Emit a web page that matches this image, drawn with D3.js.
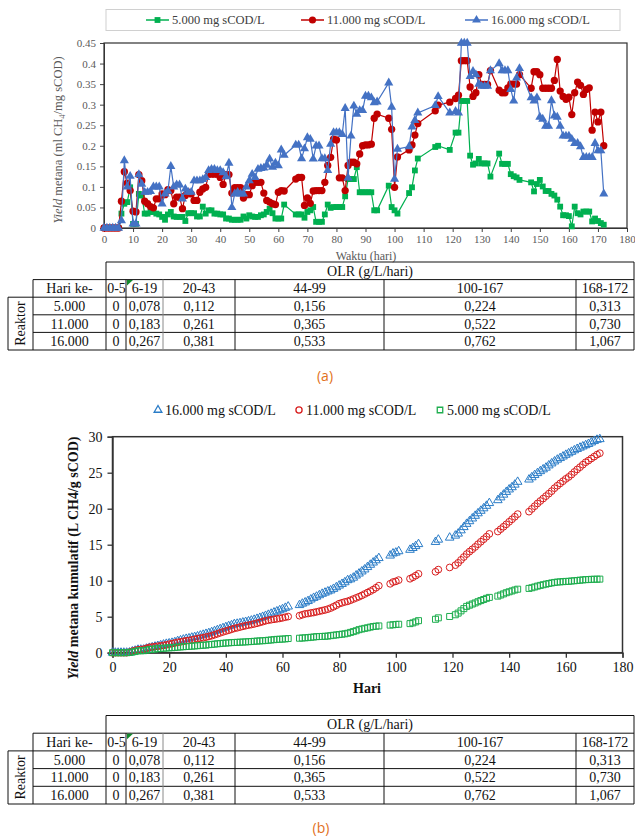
<!DOCTYPE html>
<html><head><meta charset="utf-8">
<script src="https://cdn.jsdelivr.net/npm/d3@7"></script>
<style>
body{margin:0;background:#fff;}
svg{display:block;}
svg text{font-family:"Liberation Serif","Times New Roman",serif;}
svg text.sans{font-family:"Open Sans","Liberation Sans",sans-serif;}
</style>
</head><body>
<svg id="c" width="635" height="839"></svg>
<script>
// ---------- DATA ----------
const days = [0,1,2,3,4,5,6,7,8,9,10,11,12,13,14,15,16,17,18,19,
20,21,22,23,24,25,26,27,28,29,30,31,32,33,34,35,36,37,38,39,40,41,42,43,
44,45,46,47,48,49,50,51,52,53,54,55,56,57,58,59,60,61,62,
66,67,68,69,70,71,72,73,74,75,76,77,78,79,80,81,82,83,84,85,86,87,88,89,90,91,92,93,94,
98,99,100,101,105,106,107,108,114,115,119,
121,122,123,124,125,126,127,128,129,130,131,132,133,
136,137,138,139,140,141,142,143,
147,148,149,150,151,152,153,154,155,156,157,158,159,160,161,162,163,164,165,166,167,168,169,170,171,172];

// daily methane yield (ml CH4/mg sCOD)
const yield5000 = [0,0,0,0,0,0,
0.035,0.059,0.063,0.099,0.010,0.010,0.083,0.079,0.035,0.035,0.039,0.039,0.035,0.033,
0.027,0.020,0.033,0.039,0.028,0.027,0.027,0.027,0.017,0.036,0.036,0.036,0.028,0.028,0.052,0.035,0.043,0.043,0.035,0.035,0.033,0.033,0.023,0.023,
0.020,0.020,0.020,0.020,0.028,0.023,0.031,0.028,0.027,0.027,0.031,0.033,0.039,0.047,0.036,0.023,0.023,0.023,0.057,
0.033,0.033,0.033,0.025,0.039,0.043,0.051,0.015,0.015,0.015,0.033,0.057,0.049,0.051,0.051,0.051,0.051,0.077,0.119,0.119,0.119,0.148,0.087,0.087,0.087,0.087,0.087,0.043,0.043,
0.103,0.051,0.043,0.035,0.085,0.099,0.140,0.169,0.197,0.200,0.190,
0.232,0.232,0.309,0.309,0.309,0.176,0.154,0.157,0.168,0.157,0.157,0.157,0.125,
0.181,0.156,0.156,0.156,0.131,0.126,0.123,0.117,
0.111,0.089,0.107,0.117,0.101,0.090,0.090,0.083,0.079,0.069,0.052,0.031,0.031,0.029,0.004,0.052,0.036,0.033,0.040,0.040,0.040,0.016,0.023,0.017,0.012,0.008];

const yield11000 = [0,0,0,0,0,0,
0.065,0.137,0.109,0.091,0.041,0.039,0.130,0.115,0.065,0.059,0.052,0.049,0.071,0.071,
0.083,0.081,0.093,0.091,0.059,0.075,0.075,0.047,0.079,0.087,0.083,0.067,0.067,0.087,0.095,0.099,0.131,0.131,0.131,0.131,0.123,0.106,0.130,0.130,
0.085,0.098,0.098,0.098,0.073,0.081,0.081,0.103,0.111,0.111,0.111,0.085,0.067,0.063,0.059,0.057,0.087,0.091,0.090,
0.119,0.123,0.123,0.055,0.073,0.060,0.090,0.091,0.091,0.091,0.111,0.152,0.172,0.216,0.214,0.122,0.122,0.091,0.152,0.160,0.160,0.156,0.180,0.200,0.202,0.202,0.204,0.267,0.277,
0.267,0.240,0.099,0.173,0.190,0.202,0.226,0.254,0.285,0.299,0.306,
0.315,0.323,0.407,0.407,0.407,0.343,0.320,0.329,0.373,0.349,0.349,0.349,0.383,
0.335,0.329,0.329,0.341,0.350,0.350,0.350,0.373,
0.340,0.380,0.380,0.373,0.340,0.340,0.340,0.340,0.359,0.410,0.333,0.320,0.313,0.318,0.276,0.329,0.355,0.347,0.325,0.337,0.341,0.238,0.282,0.258,0.282,0.200];

const yield16000 = [0,0,0,0,0,0,
0.018,0.164,0.100,0.126,0.010,0.010,0.130,0.107,0.087,0.087,0.089,0.100,0.100,0.100,
0.059,0.083,0.090,0.150,0.100,0.105,0.105,0.071,0.095,0.087,0.087,0.115,0.115,0.115,0.118,0.123,0.140,0.143,0.143,0.140,0.140,0.135,0.125,0.158,
0.050,0.083,0.087,0.083,0.083,0.100,0.115,0.131,0.123,0.143,0.145,0.146,0.153,0.168,0.148,0.158,0.152,0.190,0.177,
0.202,0.202,0.169,0.193,0.220,0.216,0.168,0.200,0.200,0.169,0.169,0.140,0.204,0.232,0.232,0.232,0.228,0.291,0.122,0.224,0.297,0.277,0.286,0.286,0.321,0.321,0.317,0.305,0.307,
0.353,0.294,0.119,0.192,0.198,0.246,0.262,0.280,0.298,0.320,0.280,
0.284,0.280,0.450,0.450,0.450,0.369,0.381,0.373,0.350,0.345,0.345,0.345,0.383,
0.400,0.383,0.383,0.383,0.337,0.309,0.365,0.388,
0.317,0.309,0.317,0.270,0.265,0.248,0.248,0.310,0.273,0.270,0.248,0.224,0.224,0.224,0.216,0.206,0.206,0.198,0.172,0.172,0.172,0.172,0.206,0.188,0.188,0.083];

// cumulative methane yield (L CH4/g sCOD)
const cum5000 = [0,0,0,0,0,0,
0.04,0.09,0.16,0.26,0.27,0.28,0.36,0.44,0.47,0.51,0.55,0.59,0.62,0.65,
0.68,0.70,0.73,0.77,0.80,0.83,0.86,0.88,0.90,0.94,0.97,1.01,1.04,1.06,1.12,1.15,1.19,1.24,1.27,1.31,1.34,1.37,1.40,1.42,
1.44,1.46,1.48,1.50,1.53,1.55,1.58,1.61,1.64,1.66,1.69,1.73,1.77,1.81,1.85,1.87,1.89,1.92,1.97,
2.01,2.04,2.07,2.10,2.14,2.18,2.23,2.25,2.26,2.28,2.31,2.37,2.42,2.47,2.52,2.57,2.62,2.70,2.82,2.93,3.05,3.20,3.29,3.38,3.46,3.55,3.64,3.68,3.72,
3.83,3.88,3.92,3.95,4.04,4.14,4.28,4.45,4.64,4.84,5.03,
5.27,5.50,5.81,6.12,6.43,6.60,6.76,6.91,7.08,7.24,7.39,7.55,7.68,
7.86,8.01,8.17,8.33,8.46,8.58,8.71,8.82,
8.93,9.02,9.13,9.25,9.35,9.44,9.53,9.61,9.69,9.76,9.81,9.84,9.87,9.90,9.91,9.96,9.99,10.03,10.07,10.11,10.15,10.16,10.19,10.20,10.21,10.22];

const cum11000 = [0,0,0,0,0,0,
0.07,0.20,0.31,0.40,0.44,0.48,0.61,0.73,0.79,0.85,0.90,0.95,1.02,1.09,
1.18,1.26,1.35,1.44,1.50,1.58,1.65,1.70,1.78,1.86,1.95,2.01,2.08,2.17,2.26,2.36,2.49,2.62,2.76,2.89,3.01,3.12,3.25,3.38,
3.46,3.56,3.66,3.75,3.83,3.91,3.99,4.09,4.20,4.31,4.43,4.51,4.58,4.64,4.70,4.76,4.84,4.93,5.02,
5.14,5.27,5.39,5.44,5.52,5.58,5.67,5.76,5.85,5.94,6.05,6.20,6.38,6.59,6.81,6.93,7.05,7.14,7.29,7.45,7.61,7.77,7.95,8.15,8.35,8.55,8.76,9.02,9.30,
9.57,9.81,9.91,10.08,10.27,10.47,10.70,10.95,11.24,11.54,11.84,
12.16,12.48,12.89,13.29,13.70,14.04,14.36,14.69,15.07,15.41,15.76,16.11,16.50,
16.83,17.16,17.49,17.83,18.18,18.53,18.88,19.25,
19.59,19.97,20.35,20.73,21.07,21.41,21.75,22.09,22.44,22.85,23.19,23.51,23.82,24.14,24.41,24.74,25.10,25.45,25.77,26.11,26.45,26.69,26.97,27.23,27.51,27.71];

const cum16000 = [0,0,0,0,0,0,
0.02,0.18,0.28,0.41,0.42,0.43,0.56,0.67,0.75,0.84,0.93,1.03,1.13,1.23,
1.29,1.37,1.46,1.61,1.71,1.82,1.92,1.99,2.09,2.17,2.26,2.38,2.49,2.61,2.72,2.85,2.99,3.13,3.27,3.41,3.55,3.69,3.81,3.97,
4.02,4.10,4.19,4.27,4.36,4.46,4.57,4.70,4.83,4.97,5.11,5.26,5.41,5.58,5.73,5.89,6.04,6.23,6.41,
6.61,6.81,6.98,7.17,7.39,7.61,7.78,7.98,8.18,8.34,8.51,8.65,8.86,9.09,9.32,9.55,9.78,10.07,10.19,10.42,10.72,10.99,11.28,11.56,11.89,12.21,12.52,12.83,13.14,
13.49,13.78,13.90,14.09,14.29,14.54,14.80,15.08,15.38,15.70,15.98,
16.26,16.54,16.99,17.44,17.89,18.26,18.64,19.01,19.36,19.71,20.05,20.40,20.78,
21.18,21.57,21.95,22.33,22.67,22.98,23.34,23.73,
24.05,24.36,24.67,24.94,25.21,25.46,25.70,26.01,26.29,26.56,26.81,27.03,27.25,27.48,27.69,27.90,28.11,28.30,28.48,28.65,28.82,28.99,29.20,29.39,29.57,29.66];

const seriesLabels = ["5.000 mg sCOD/L","11.000 mg sCOD/L","16.000 mg sCOD/L"];
const ticksAy = [0,0.05,0.1,0.15,0.2,0.25,0.3,0.35,0.4,0.45];
const ticksAx = [0,10,20,30,40,50,60,70,80,90,100,110,120,130,140,150,160,170,180];
const ticksBy = [0,5,10,15,20,25,30];
const ticksBx = [0,20,40,60,80,100,120,140,160,180];

const olrHeader = "OLR (g/L/hari)";
const hariLabel = "Hari ke-";
const olrPeriods = ["0-5","6-19","20-43","44-99","100-167","168-172"];
const reaktorLabels = ["5.000","11.000","16.000"];
const olrValues = [
  ["0","0,078","0,112","0,156","0,224","0,313"],
  ["0","0,183","0,261","0,365","0,522","0,730"],
  ["0","0,267","0,381","0,533","0,762","1,067"]
];

// ---------- DRAW ----------
const svg = d3.select("#c");
svg.append("rect").attr("width",635).attr("height",839).attr("fill","#fff");

const colA = {g:"#00b050", r:"#c00000", b:"#4472c4"};
const colB = {g:"#1fae4f", r:"#d81e1e", b:"#2a7cc7"};
const grayTxt = "#595959";

// ===== Chart (a) =====
const xA = d3.scaleLinear().domain([0,180]).range([104,627]);
const yA = d3.scaleLinear().domain([0,0.45]).range([228,43]);

const lgA = svg.append("g");
lgA.append("rect").attr("x",106).attr("y",9.5).attr("width",514).attr("height",21)
  .attr("fill","#fff").attr("stroke","#d0d0d0");
const lgItems = [
  {x:146, c:colA.g, s:d3.symbolSquare, sz:34, t:seriesLabels[0]},
  {x:301, c:colA.r, s:d3.symbolCircle, sz:40, t:seriesLabels[1]},
  {x:465, c:colA.b, s:d3.symbolTriangle, sz:34, t:seriesLabels[2]}
];
lgItems.forEach(it=>{
  lgA.append("line").attr("x1",it.x).attr("x2",it.x+23).attr("y1",20).attr("y2",20)
    .attr("stroke",it.c).attr("stroke-width",1.5);
  lgA.append("path").attr("d",d3.symbol().type(it.s).size(it.sz)()).attr("fill",it.c)
    .attr("transform",`translate(${it.x+11.5},20)`);
  lgA.append("text").attr("x",it.x+26).attr("y",20).attr("dy","0.35em")
    .attr("font-size",12.5).attr("fill","#404040").text(it.t);
});

const axAy = svg.append("g").attr("transform","translate(104,0)")
  .call(d3.axisLeft(yA).tickValues(ticksAy).tickSize(4).tickPadding(4).tickFormat(d=>String(+d.toFixed(2))));
const axAx = svg.append("g").attr("transform","translate(0,228)")
  .call(d3.axisBottom(xA).tickValues(ticksAx).tickSize(4).tickPadding(3).tickFormat(d3.format("d")));
[axAy,axAx].forEach(g=>{
  g.attr("font-family",null);
  g.selectAll("path,line").attr("stroke","#404040");
  g.selectAll("text").attr("fill",grayTxt).attr("font-size",11);
});
svg.append("rect").attr("x",104).attr("y",43).attr("width",523).attr("height",185)
  .attr("fill","none").attr("stroke","#303030").attr("stroke-width",1.2);

const ytA = svg.append("text").attr("transform","translate(62,140) rotate(-90)")
  .attr("text-anchor","middle").attr("font-size",12.5).attr("fill",grayTxt);
ytA.append("tspan").attr("font-style","italic").text("Yield");
ytA.append("tspan").text(" metana (ml CH");
ytA.append("tspan").attr("font-size",8.5).attr("dy",3).text("4");
ytA.append("tspan").attr("dy",-3).text("/mg sCOD)");

svg.append("text").attr("x",366).attr("y",256).attr("dy","0.35em").attr("text-anchor","middle")
  .attr("font-size",12).attr("fill",grayTxt).text("Waktu (hari)");

const seriesA = [
  {v:yield5000, c:colA.g, s:d3.symbolSquare, sz:34},
  {v:yield11000, c:colA.r, s:d3.symbolCircle, sz:42},
  {v:yield16000, c:colA.b, s:d3.symbolTriangle, sz:36}
];
const lineA = d3.line().x(d=>xA(d[0])).y(d=>yA(d[1]));
seriesA.forEach(s=>{
  const pts = days.map((d,i)=>[d,s.v[i]]);
  svg.append("path").attr("d",lineA(pts)).attr("fill","none").attr("stroke",s.c).attr("stroke-width",1.2);
  svg.append("g").selectAll("path").data(pts).join("path")
    .attr("d",d3.symbol().type(s.s).size(s.sz)())
    .attr("transform",d=>`translate(${xA(d[0])},${yA(d[1])})`)
    .attr("fill",s.c);
});

// ===== Tables =====
const colX = [8,33,106,126,163,235,384,576,634];
function drawTable(y0, rh){
  const g = svg.append("g");
  const r = [0,1,2,3,4,5].map(i=>y0+i*rh);
  const L = (x1,y1,x2,y2,c)=>g.append("line").attr("x1",x1).attr("y1",y1).attr("x2",x2).attr("y2",y2)
    .attr("stroke",c||"#111").attr("stroke-width",1);
  L(colX[2],r[0],colX[8],r[0]);
  L(colX[1],r[1],colX[8],r[1]);
  L(colX[0],r[2],colX[8],r[2]);
  L(colX[1],r[3],colX[8],r[3]);
  L(colX[1],r[4],colX[8],r[4]);
  L(colX[0],r[5],colX[8],r[5]);
  L(colX[0],r[2],colX[0],r[5]);
  L(colX[1],r[1],colX[1],r[5]);
  L(colX[2],r[0],colX[2],r[5]);
  for(let k=3;k<8;k++) L(colX[k],r[1],colX[k],r[5], k===4?"#8a8a8a":"#111");
  L(colX[8],r[0],colX[8],r[5]);
  g.append("path").attr("d",`M${colX[3]+1},${r[1]+0.5}L${colX[3]+7},${r[1]+0.5}L${colX[3]+1},${r[1]+6}Z`).attr("fill","#138a2c");
  const T = (x,y,t)=>g.append("text").attr("x",x).attr("y",y).attr("dy","0.35em").attr("text-anchor","middle")
    .attr("font-size",14).attr("fill","#111").text(t);
  T((colX[2]+colX[8])/2, (r[0]+r[1])/2, olrHeader);
  T((colX[1]+colX[2])/2, (r[1]+r[2])/2, hariLabel);
  olrPeriods.forEach((p,j)=>T((colX[j+2]+colX[j+3])/2+(j===0?0.5:0), (r[1]+r[2])/2, p));
  reaktorLabels.forEach((lab,i)=>{
    T((colX[1]+colX[2])/2, (r[i+2]+r[i+3])/2, lab);
    olrValues[i].forEach((v,j)=>T((colX[j+2]+colX[j+3])/2, (r[i+2]+r[i+3])/2, v));
  });
  g.append("text").attr("transform",`translate(${(colX[0]+colX[1])/2},${(r[2]+r[5])/2}) rotate(-90)`)
    .attr("dy","0.35em").attr("text-anchor","middle").attr("font-size",14).attr("fill","#111").text("Reaktor");
}
drawTable(262, 17.6);
drawTable(715.5, 17.7);

svg.append("text").attr("class","sans").attr("x",325).attr("y",376).attr("dy","0.35em").attr("text-anchor","middle")
  .attr("font-size",14).attr("fill","#e2711d").text("(a)");
svg.append("text").attr("class","sans").attr("x",321).attr("y",828).attr("dy","0.35em").attr("text-anchor","middle")
  .attr("font-size",14).attr("fill","#e2711d").text("(b)");

// ===== Chart (b) =====
const xB = d3.scaleLinear().domain([0,180]).range([112.5,622.5]);
const yB = d3.scaleLinear().domain([0,30]).range([652.7,436.7]);

const axBy = svg.append("g").attr("transform","translate(112.5,0)")
  .call(d3.axisLeft(yB).tickValues(ticksBy).tickSize(5).tickPadding(5).tickFormat(d3.format("d")));
const axBx = svg.append("g").attr("transform","translate(0,652.7)")
  .call(d3.axisBottom(xB).tickValues(ticksBx).tickSize(5).tickPadding(4).tickFormat(d3.format("d")));
[axBy,axBx].forEach(g=>{
  g.attr("font-family",null);
  g.selectAll("path,line").attr("stroke","#333").attr("stroke-width",1.3);
  g.selectAll("text").attr("fill","#111").attr("font-size",14);
});
svg.append("rect").attr("x",112.5).attr("y",436.7).attr("width",510).attr("height",216)
  .attr("fill","none").attr("stroke","#333").attr("stroke-width",1.5);

const ytB = svg.append("text").attr("transform","translate(78,558) rotate(-90)")
  .attr("text-anchor","middle").attr("font-size",14).attr("font-weight","bold").attr("fill","#111");
ytB.append("tspan").attr("font-style","italic").text("Yield");
ytB.append("tspan").text(" metana kumulatif (L CH4/g sCOD)");

svg.append("text").attr("x",367).attr("y",688).attr("dy","0.35em").attr("text-anchor","middle")
  .attr("font-size",14).attr("font-weight","bold").attr("fill","#111").text("Hari");

const lgB = [
  {x:158, c:colB.b, s:d3.symbolTriangle, sz:26, t:seriesLabels[2]},
  {x:299, c:colB.r, s:d3.symbolCircle, sz:30, t:seriesLabels[1]},
  {x:440, c:colB.g, s:d3.symbolSquare, sz:30, t:seriesLabels[0]}
];
lgB.forEach(it=>{
  svg.append("path").attr("d",d3.symbol().type(it.s).size(it.sz)()).attr("fill","none")
    .attr("stroke",it.c).attr("stroke-width",1.3).attr("transform",`translate(${it.x},410)`);
  svg.append("text").attr("x",it.x+7).attr("y",410).attr("dy","0.35em").attr("font-size",14)
    .attr("fill","#111").text(it.t);
});

const seriesB = [
  {v:cum16000, c:colB.b, s:d3.symbolTriangle, sz:32},
  {v:cum11000, c:colB.r, s:d3.symbolCircle, sz:36},
  {v:cum5000, c:colB.g, s:d3.symbolSquare, sz:36}
];
seriesB.forEach(s=>{
  svg.append("g").selectAll("path").data(days.map((d,i)=>[d,s.v[i]])).join("path")
    .attr("d",d3.symbol().type(s.s).size(s.sz)())
    .attr("transform",d=>`translate(${xB(d[0])},${yB(d[1])})`)
    .attr("fill","none").attr("stroke",s.c).attr("stroke-width",1);
});
</script>
</body></html>
